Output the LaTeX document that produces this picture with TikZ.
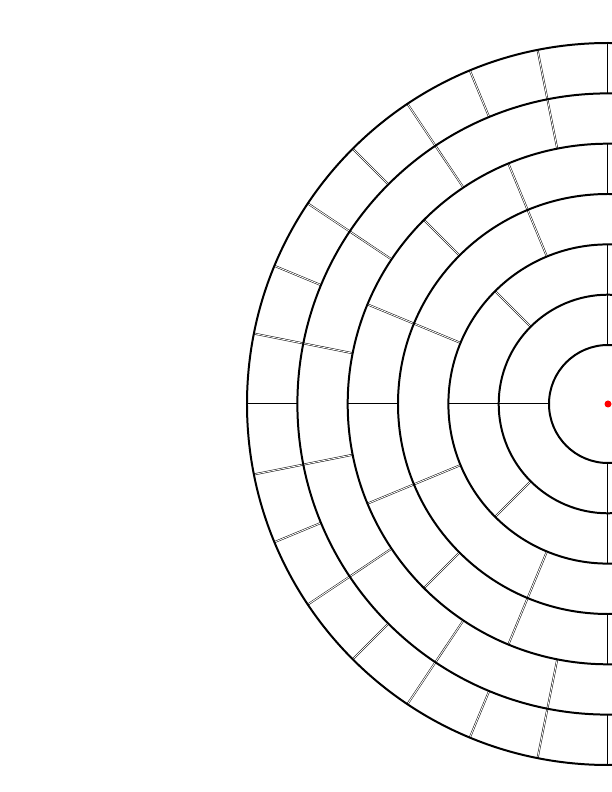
\documentclass[tikz,border=0pt]{standalone}
\usepackage{tikz}
\begin{document}
\begin{tikzpicture}[x=1bp,y=1bp,
    ring/.style={draw=black,line width=2pt},
    wall/.style={draw=black,line width=0.5pt,double=white,double distance=0.9pt},
    hub/.style={circle,fill=red,inner sep=0pt,minimum size=7bp}]
  \useasboundingbox (-608,-388) rectangle (4,404);
  \clip (-608,-388) rectangle (4,404);
  % walls between cells: inner radius / outer radius / cells / offset
  \foreach \ri/\ro/\n/\off in {59/109.3/4/0, 109.3/159.6/8/0, 159.6/210/8/22.5,
      210/260.3/16/0, 260.3/310.6/16/11.25, 310.6/361/32/0} {
    \pgfmathsetmacro\stp{360/\n}
    \foreach \k in {1,...,\n}
      \draw[wall] (\off+\k*\stp:\ri) -- (\off+\k*\stp:\ro);
  }
  % rings
  \foreach \r in {59,109.3,159.6,210,260.3,310.6,361}
    \draw[ring] (0,0) circle (\r);
  \node[hub] (hub) at (0,0) {};
\end{tikzpicture}
\end{document}
